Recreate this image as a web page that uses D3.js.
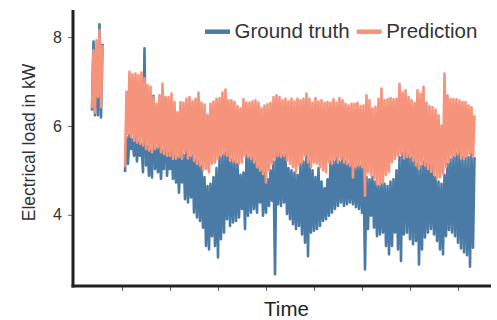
<!DOCTYPE html>
<html><head><meta charset="utf-8">
<script src="https://cdn.jsdelivr.net/npm/d3@7"></script>
<style>body{margin:0;background:#fff}svg{display:block;font-family:"Liberation Sans",Arial,Helvetica,sans-serif}</style>
</head><body><svg id="c" width="497" height="320"></svg>
<script>
// ---- data (time in sample index units; values in kW) ----
const seriesNames = ["Ground truth", "Prediction"];
const seriesColors = ["#4a7ba7", "#f6937b"];
const yTickValues = [4, 6, 8];
const xTickTimes = [-1, 15, 31, 47, 63, 79, 95, 111];
const segmentStarts = [-11, 0];

// first short segment
const truthLo1 = [6.35, 6.24, 6.24, 6.19];
const truthHi1 = [7.90, 7.75, 8.29, 7.85];
const predLo1  = [6.40, 6.30, 6.65, 6.42];
const predHi1  = [7.71, 7.93, 8.16, 7.82];

// main segment
const truthLo2 = [4.96,5.15,5.48,5.33,5.20,5.33,4.96,5.11,4.88,4.84,
  5.03,4.96,4.81,5.03,4.88,5.03,4.81,4.73,4.50,4.73,
  4.35,4.28,4.39,4.05,3.94,3.86,3.71,3.30,3.22,3.52,
  3.30,3.04,3.45,3.60,3.90,3.75,3.83,3.86,3.94,4.13,
  3.68,3.98,4.05,4.13,4.05,4.28,3.98,4.05,4.20,4.32,
  2.66,4.24,4.20,4.28,4.02,3.90,3.79,3.68,3.75,3.56,
  3.37,3.07,3.60,3.64,3.68,3.75,3.86,3.90,3.98,4.05,
  4.13,4.20,4.28,4.20,4.24,4.28,4.24,4.17,4.13,4.05,
  2.77,3.68,3.98,3.71,3.52,3.56,3.60,3.30,3.11,3.30,
  3.60,3.22,2.96,3.56,3.60,3.45,3.34,3.41,2.88,3.22,
  3.49,3.60,3.68,3.56,3.41,3.22,3.11,3.52,3.66,3.60,
  3.52,3.37,3.24,3.16,3.09,2.83,3.26];
const truthHi2 = [5.75,5.80,5.70,5.72,5.65,5.60,7.75,5.55,5.45,6.68,
  5.50,5.55,5.45,6.60,5.40,5.50,5.35,5.30,5.40,5.35,
  5.45,5.30,5.35,5.25,5.20,5.10,4.85,4.65,4.70,4.85,
  5.05,5.30,5.35,5.40,5.40,5.25,5.20,5.15,4.90,4.95,
  5.35,5.30,5.30,5.20,5.10,5.00,4.95,4.80,5.00,5.20,
  5.40,5.40,5.35,5.35,5.05,5.00,4.95,4.90,5.15,5.20,
  5.45,5.20,5.00,4.85,5.05,4.75,4.60,4.80,5.20,5.20,
  5.30,5.20,5.30,5.20,5.15,5.15,5.05,5.10,5.10,5.10,
  4.85,4.80,4.85,4.75,4.65,4.70,4.70,4.65,4.75,4.80,
  5.00,5.30,5.40,5.70,5.35,5.30,5.25,5.15,5.10,5.20,
  5.15,5.20,5.15,4.85,4.75,4.70,4.90,5.15,5.25,5.30,
  5.38,5.40,5.30,5.28,5.30,5.40,5.30];
const predLo2 = [5.07,5.82,5.75,5.67,5.63,5.60,5.56,5.48,5.45,5.41,
  5.48,5.52,5.41,5.37,5.33,5.33,5.26,5.26,5.30,5.26,
  5.41,5.27,5.33,5.22,5.15,5.11,5.00,5.03,4.96,5.15,
  5.18,5.26,5.33,5.37,5.33,5.22,5.20,5.18,5.15,5.18,
  5.33,5.30,5.26,5.18,5.07,5.00,4.92,4.73,5.00,5.15,
  5.26,5.33,5.30,5.33,5.22,5.15,5.07,4.97,5.11,5.18,
  5.33,5.18,5.07,5.18,5.15,5.07,5.00,4.96,5.18,5.15,
  5.26,5.18,5.26,5.18,5.15,5.11,4.84,5.07,5.11,5.07,
  4.43,4.96,4.90,4.82,4.69,4.69,4.73,4.90,4.97,5.18,
  5.26,5.33,5.37,5.27,5.30,5.30,5.22,5.11,5.03,5.15,
  5.11,5.03,4.97,4.90,4.82,4.84,4.92,5.07,5.20,5.30,
  5.33,5.37,5.27,5.26,5.32,5.37,5.30];
const predHi2 = [6.77,7.22,7.16,7.18,7.14,7.20,7.07,6.92,6.88,6.65,
  6.50,6.69,6.95,6.65,6.65,6.73,6.54,6.31,6.54,6.52,
  6.61,6.65,6.55,6.61,6.75,6.52,6.48,6.25,6.50,6.55,
  6.61,6.63,6.75,6.82,6.58,6.58,6.54,6.45,6.40,6.60,
  6.52,6.52,6.55,6.58,6.52,6.40,6.46,6.49,6.52,6.65,
  6.69,6.65,6.58,6.61,6.55,6.61,6.55,6.61,6.58,6.61,
  6.73,6.61,6.52,6.63,6.55,6.58,6.52,6.54,6.52,6.60,
  6.52,6.63,6.58,6.50,6.46,6.50,6.50,6.52,6.45,6.46,
  6.69,6.58,6.39,6.43,6.61,6.84,6.58,6.60,6.63,6.60,
  6.61,6.95,6.75,6.80,6.65,6.58,6.52,6.80,6.73,6.88,
  6.52,6.45,6.42,6.37,6.24,6.01,7.18,6.69,6.61,6.60,
  6.60,6.57,6.54,6.54,6.46,6.42,6.24];

const truthSegments = [[truthLo1, truthHi1], [truthLo2, truthHi2]];
const predSegments  = [[predLo1, predHi1], [predLo2, predHi2]];

// ---- drawing ----
const svg = d3.select("#c");
const x = d3.scaleLinear().domain([-17.33, 122]).range([73, 491]);
const y = d3.scaleLinear().domain([2.42, 8.61]).range([285, 10]);
const ink = "#222";

// plot lines (zig-zag between lower and upper readings at each sample)
const line = d3.line().x(d => x(d[0])).y(d => y(d[1]));
function drawSeries(segments, color) {
  segments.forEach(([lo, hi], s) => {
    const t0 = segmentStarts[s];
    const pts = [];
    lo.forEach((v, i) => { pts.push([t0 + i, v]); pts.push([t0 + i + 0.5, hi[i]]); });
    svg.append("path").attr("d", line(pts)).attr("fill", "none")
      .attr("stroke", color).attr("stroke-width", 2.6)
      .attr("stroke-linejoin", "round").attr("stroke-linecap", "butt");
  });
}
drawSeries(truthSegments, seriesColors[0]);
drawSeries(predSegments, seriesColors[1]);

// axes
const yAxis = svg.append("g").attr("transform", "translate(73,0)")
  .call(d3.axisLeft(y).tickValues(yTickValues).tickFormat(d3.format("d")).tickSize(5).tickPadding(6));
yAxis.select(".domain").remove();
yAxis.selectAll(".tick line").attr("stroke", "#666").attr("stroke-width", 1);
yAxis.selectAll(".tick text").attr("fill", "#333").style("font-size", "16px").style("font-family", "'Liberation Sans',Arial,sans-serif");

const xAxis = svg.append("g").attr("transform", "translate(0,286)")
  .call(d3.axisBottom(x).tickValues(xTickTimes).tickFormat("").tickSize(5));
xAxis.select(".domain").remove();
xAxis.selectAll(".tick line").attr("stroke", "#666").attr("stroke-width", 1);

svg.append("line").attr("x1", 73).attr("x2", 73).attr("y1", 10).attr("y2", 287.5)
  .attr("stroke", ink).attr("stroke-width", 3);
svg.append("line").attr("x1", 71.5).attr("x2", 491).attr("y1", 286).attr("y2", 286)
  .attr("stroke", ink).attr("stroke-width", 3);

// axis titles
svg.append("text").attr("x", 286.5).attr("y", 316).attr("text-anchor", "middle")
  .attr("fill", ink).style("font-size", "20.5px").text("Time");
svg.append("text").attr("transform", "translate(35,142.5) rotate(-90)").attr("text-anchor", "middle")
  .attr("fill", "#333").style("font-size", "17.5px").text("Electrical load in kW");

// legend
const legendX = [205, 356.7];
seriesNames.forEach((name, i) => {
  const g = svg.append("g").attr("transform", `translate(${legendX[i]},0)`);
  g.append("line").attr("x1", 0).attr("x2", 25).attr("y1", 31.7).attr("y2", 31.7)
    .attr("stroke", seriesColors[i]).attr("stroke-width", 4.5);
  g.append("text").attr("x", 29.5).attr("y", 38).attr("fill", "#333")
    .style("font-size", "20.5px").text(name);
});
</script></body></html>
